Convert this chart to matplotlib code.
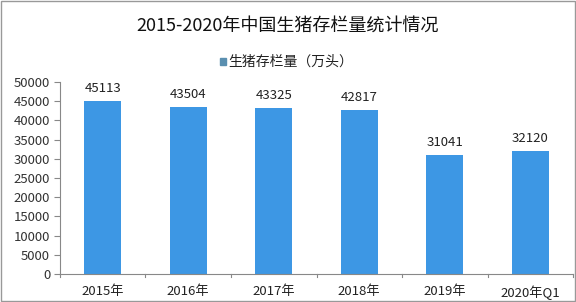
import matplotlib
matplotlib.use('Agg')
import matplotlib.pyplot as plt
from matplotlib.patches import Rectangle

plt.rcParams['font.family'] = ['Noto Sans CJK SC', 'DejaVu Sans']

# 数据
categories = ['2015年', '2016年', '2017年', '2018年', '2019年', '2020年Q1']
values = [45113, 43504, 43325, 42817, 31041, 32120]
yticks = list(range(0, 50001, 5000))

bar_color = '#3d97e4'

fig = plt.figure(figsize=(5.76, 3.02), dpi=100)
ax = fig.add_axes([0.104, 0.093, 0.891, 0.635])

x = range(len(categories))
bars = ax.bar(x, values, width=0.43, color=bar_color, zorder=2)

for b, v in zip(bars, values):
    ax.text(b.get_x() + b.get_width() / 2, v + 1600, str(v),
            ha='center', va='bottom', fontsize=9.5, color='#222222')

ax.set_xlim(-0.5, len(categories) - 0.5)
ax.set_ylim(0, 50000)
ax.set_yticks(yticks)
ax.set_yticklabels([str(t) for t in yticks], fontsize=9.5, color='#333333')
ax.set_xticks(list(x))
ax.set_xticklabels(categories, fontsize=9.5, color='#222222')
ax.tick_params(axis='x', length=0, pad=8)
ax.tick_params(axis='y', length=4, color='#888888', pad=3)

# 类别之间的刻度线
for i in range(len(categories) + 1):
    ax.plot([i - 0.5, i - 0.5], [0, -900], color='#888888', lw=0.8,
            clip_on=False)

for s in ['top', 'right']:
    ax.spines[s].set_visible(False)
ax.spines['left'].set_color('#888888')
ax.spines['bottom'].set_color('#888888')

fig.text(0.5, 0.915, '2015-2020年中国生猪存栏量统计情况', ha='center',
         va='center', fontsize=13, color='#111111')

# 图例
fig.patches.append(Rectangle((0.382, 0.785), 0.011, 0.022,
                             transform=fig.transFigure, color='#5a8fb0'))
fig.text(0.397, 0.797, '生猪存栏量（万头）', ha='left', va='center',
         fontsize=10, color='#222222')

# 外框
fig.patches.append(Rectangle((0.001, 0.002), 0.997, 0.995,
                             transform=fig.transFigure, fill=False,
                             edgecolor='#999999', lw=1))

fig.savefig('out.png', dpi=100)
